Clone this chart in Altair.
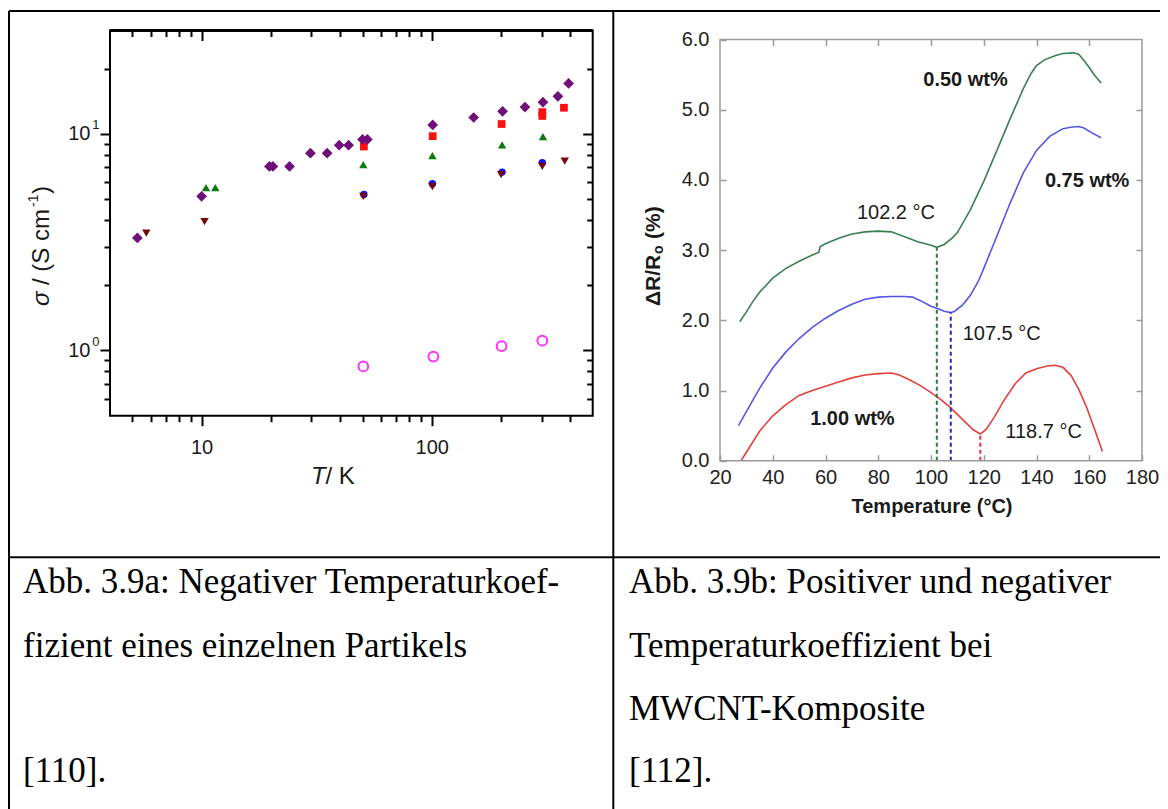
import altair as alt
import pandas as pd

# ---------------- data: panel a (log-log) ----------------
dia_T = [5.26, 10.0, 19.7, 20.4, 24.1, 29.7, 35.1, 39.6, 43.5, 50.0, 52.5, 100.9, 152, 203, 254, 304, 353, 393]
dia_S = [3.31, 5.15, 7.07, 7.07, 7.07, 8.14, 8.14, 8.87, 8.87, 9.42, 9.42, 11.0, 11.9, 12.7, 13.3, 14.0, 14.9, 17.1]
sq_T = [50.7, 100.9, 201, 302, 302, 375]
sq_S = [8.74, 9.76, 11.1, 12.1, 12.6, 13.2]
tri_T = [10.45, 11.47, 50.4, 100.6, 202, 304]
tri_S = [5.64, 5.64, 7.21, 7.94, 8.9, 9.72]
cir_T = [50.7, 100.6, 202, 302]
cir_S = [5.25, 5.88, 6.66, 7.35]
dtri_T = [5.75, 10.3, 50.4, 100.6, 200, 302, 378]
dtri_S = [3.48, 3.93, 5.14, 5.71, 6.48, 7.07, 7.48]
oc_T = [50.4, 101.6, 201, 302]
oc_S = [0.844, 0.937, 1.047, 1.11]

a_major_x = [10, 100]
a_minor_x = [5, 6, 7, 8, 9, 20, 30, 40, 50, 60, 70, 80, 90, 200, 300, 400]
a_major_y = [1, 10]
a_minor_y = [0.6, 0.7, 0.8, 0.9, 2, 3, 4, 5, 6, 7, 8, 9, 20]

# ---------------- data: panel b ----------------
g_T = [27.5, 30, 32.5, 35, 40, 45, 50, 55, 57.5, 58, 60, 65, 70, 75, 80, 85, 90, 95, 100, 102.2, 105, 108, 110,
       112, 115, 120, 125, 130, 135, 138, 140, 143, 147, 150, 154, 156, 158, 160, 162, 164.5]
g_R = [1.98, 2.12, 2.27, 2.40, 2.60, 2.74, 2.84, 2.93, 2.97, 3.05, 3.09, 3.17, 3.23, 3.26, 3.27, 3.26, 3.19, 3.12,
       3.07, 3.04, 3.08, 3.17, 3.25, 3.38, 3.58, 3.98, 4.42, 4.87, 5.30, 5.52, 5.63, 5.71, 5.77, 5.80, 5.81, 5.79,
       5.70, 5.60, 5.49, 5.38]
b_T = [27, 30, 35, 40, 45, 50, 55, 60, 65, 70, 75, 80, 85, 90, 93, 96, 100, 103, 105, 107.5, 109, 112, 115, 118,
       120, 125, 130, 135, 140, 145, 150, 153, 156, 158, 161, 164.5]
b_R = [0.50, 0.70, 1.03, 1.32, 1.55, 1.74, 1.90, 2.03, 2.14, 2.23, 2.30, 2.33, 2.34, 2.34, 2.33, 2.28, 2.20, 2.16,
       2.13, 2.11, 2.13, 2.22, 2.36, 2.56, 2.74, 3.20, 3.67, 4.10, 4.42, 4.62, 4.73, 4.75, 4.76, 4.74, 4.67, 4.60]
r_T = [28, 30, 35, 40, 45, 50, 55, 60, 65, 70, 75, 80, 85, 88, 92, 96, 100, 103, 107, 110, 113, 116, 118.7, 121,
       124, 128, 132, 136, 140, 144, 147, 150, 153, 156, 159, 162, 165]
r_R = [0.0, 0.12, 0.42, 0.64, 0.80, 0.93, 1.00, 1.06, 1.12, 1.18, 1.22, 1.24, 1.25, 1.22, 1.15, 1.07, 0.97, 0.89,
       0.77, 0.66, 0.55, 0.44, 0.38, 0.45, 0.62, 0.88, 1.10, 1.25, 1.31, 1.35, 1.36, 1.33, 1.22, 1.02, 0.76, 0.45,
       0.13]
min_T = [102.2, 107.5, 118.7]
min_R = [3.04, 2.11, 0.38]
wt_labels = ["0.50 wt%", "0.75 wt%", "1.00 wt%"]
wt_T = [113.1, 159.2, 70.2]
wt_R = [5.42, 3.99, 0.59]
min_labels = ["102.2 °C", "107.5 °C", "118.7 °C"]
min_lab_T = [86.7, 126.8, 142.7]
min_lab_R = [3.53, 1.81, 0.41]
b_ticks_x = [20, 40, 60, 80, 100, 120, 140, 160, 180]
b_ticks_y = [0, 1, 2, 3, 4, 5, 6]

caption_left = ["Abb. 3.9a: Negativer Temperaturkoef-", "fizient eines einzelnen Partikels", "", "[110]."]
caption_right = ["Abb. 3.9b: Positiver und negativer", "Temperaturkoeffizient bei", "MWCNT-Komposite", "[112]."]

# ---------------- layout ----------------
W, H = 1152, 801
P = 8
SANS = "Liberation Sans"
SERIF = "Liberation Serif"


def px(v):
    return v - P


LX = [px(110), px(592.7)]
LY = [px(415.7), px(30.5)]
RX = [px(720), px(1142)]
RY = [px(460.7), px(39.5)]


def lxs():
    return alt.Scale(type="log", domain=[4, 500], range=LX, nice=False)


def lys():
    return alt.Scale(type="log", domain=[0.5, 30], range=LY, nice=False)


def rxs():
    return alt.Scale(type="linear", domain=[20, 180], range=RX, nice=False, zero=False)


def rys():
    return alt.Scale(type="linear", domain=[0, 6], range=RY, nice=False, zero=False)


def ax(orient, values, tick, offset, color="black", width=2, **kw):
    base = dict(orient=orient, values=values, tickSize=tick, tickWidth=width, tickColor=color,
                domain=False, grid=False, offset=offset, title=None, labelOverlap=False, labelFlush=False)
    if "labels" not in kw:
        base["labels"] = False
    base.update(kw)
    return alt.Axis(**base)


# panel a axes
lb_major = ax("bottom", a_major_x, 10, LY[0] - H, labels=True, format="d", labelFont=SANS,
              labelFontSize=20, labelColor="#1a1a1a", labelPadding=12)
lb_minor = ax("bottom", a_minor_x, 6, LY[0] - H)
lt_major = ax("top", a_major_x, 10, -(LY[1] + 10))
lt_minor = ax("top", a_minor_x, 6, -(LY[1] + 6))
ll_major = ax("left", a_major_y, 10, -LX[0], labels=True, labelExpr="'10'", labelFont=SANS,
              labelFontSize=20, labelColor="#1a1a1a", labelPadding=10)
ll_minor = ax("left", a_minor_y, 6, -LX[0])
lr_major = ax("right", a_major_y, 10, (LX[1] - 10) - W)
lr_minor = ax("right", a_minor_y, 6, (LX[1] - 6) - W)
ll_sup = ax("left", a_major_y, 0, -LX[0], ticks=False, labels=True,
            labelExpr="datum.value < 5 ? '0' : '1'", labelFont=SANS, labelFontSize=13,
            labelColor="#1a1a1a", labelPadding=11, labelOffset=-9)

# panel b axes
GR = "#9a9a9a"
rb = ax("bottom", b_ticks_x, 6, (RY[0] - 6) - H, color=GR, width=1.5, labels=True, labelFont=SANS,
        labelFontSize=20, labelColor="#222222", labelPadding=7)
rl = ax("left", b_ticks_y, 6, -(RX[0] + 6), color=GR, width=1.5, labels=True, format=".1f",
        labelFont=SANS, labelFontSize=20, labelColor="#222222", labelPadding=11)
rt = ax("top", b_ticks_x[1:-1], 6, -(RY[1] + 6), color=GR, width=1.5)
rr = ax("right", b_ticks_y[1:-1], 6, (RX[1] - 6) - W, color=GR, width=1.5)

one = pd.DataFrame({"k": [0]})


def pts(T, S, shape, color, size, xa, ya, filled=True, sw=0):
    df = pd.DataFrame({"T": T, "S": S})
    if filled:
        m = alt.Chart(df).mark_point(shape=shape, size=size, filled=True, color=color, opacity=1)
    else:
        m = alt.Chart(df).mark_point(shape=shape, size=size, filled=False, color=color, opacity=1,
                                     strokeWidth=sw)
    return m.encode(x=alt.X("T:Q", scale=lxs(), axis=xa), y=alt.Y("S:Q", scale=lys(), axis=ya))


def label(text, x, y, size, angle=0, align="left", baseline="alphabetic", font=SANS, **kw):
    props = dict(text=text, font=font, fontSize=size, align=align, baseline=baseline, color="#1a1a1a")
    if angle:
        props["angle"] = angle
    props.update(kw)
    return alt.Chart(one).mark_text(**props).encode(x=alt.value(px(x)), y=alt.value(px(y)))


layers = []

# panel a frame
layers.append(alt.Chart(one).mark_rect(fillOpacity=0, stroke="black", strokeWidth=2).encode(
    x=alt.X(datum=4, type="quantitative", scale=lxs(), axis=None),
    x2=alt.X2(datum=500),
    y=alt.Y(datum=0.5, type="quantitative", scale=lys(), axis=None),
    y2=alt.Y2(datum=30)))
layers.append(alt.Chart(one).mark_rule(color="black", strokeWidth=3).encode(
    x=alt.X(datum=4, type="quantitative", scale=lxs(), axis=None),
    x2=alt.X2(datum=500),
    y=alt.Y(datum=30, type="quantitative", scale=lys(), axis=None)))

layers.append(pts(sq_T, sq_S, "square", "#ff1010", 60, lb_major, ll_major))
layers.append(pts(tri_T, tri_S, "triangle-up", "#0a7a0a", 70, lb_minor, ll_minor))
layers.append(pts(cir_T, cir_S, "circle", "#1010ff", 55, lt_major, lr_major))
layers.append(pts(dtri_T, dtri_S, "triangle-down", "#780808", 70, lt_minor, lr_minor))
layers.append(pts(oc_T, oc_S, "circle", "#ff30ff", 95, None, ll_sup, filled=False, sw=2))
layers.append(pts(dia_T, dia_S, "diamond", "#6e0f7a", 115, None, None))

# panel a titles
layers.append(label("T", 311, 484, 24, fontStyle="italic"))
layers.append(label("/ K", 325.5, 484, 24))
Y0 = 306
layers.append(label("σ", 42, Y0, 24, angle=270, baseline="middle", fontStyle="italic"))
layers.append(label("/ (S cm", 42, Y0 - 21, 24, angle=270, baseline="middle"))
layers.append(label("-1", 34, Y0 - 99, 14, angle=270, baseline="middle"))
layers.append(label(")", 42, Y0 - 112, 24, angle=270, baseline="middle"))


# panel b
def line(T, R, color, xa, ya):
    df = pd.DataFrame({"T": T, "R": R})
    return alt.Chart(df).mark_line(color=color, strokeWidth=1.6).encode(
        x=alt.X("T:Q", scale=rxs(), axis=xa), y=alt.Y("R:Q", scale=rys(), axis=ya))


layers.append(line(g_T, g_R, "#3a7f52", rb, rl))
layers.append(line(b_T, b_R, "#5656e6", rt, rr))
layers.append(line(r_T, r_R, "#e4403c", None, None))

dash_colors = ["#2f7a40", "#2424d0", "#e03434"]
for t, r, c in zip(min_T, min_R, dash_colors):
    d = pd.DataFrame({"T": [t], "R0": [0.0], "R1": [r]})
    layers.append(alt.Chart(d).mark_rule(color=c, strokeWidth=2, strokeDash=[4, 3]).encode(
        x=alt.X("T:Q", scale=rxs(), axis=None),
        y=alt.Y("R0:Q", scale=rys(), axis=None), y2="R1:Q"))

layers.append(alt.Chart(one).mark_rect(fillOpacity=0, stroke=GR, strokeWidth=1.5).encode(
    x=alt.X(datum=20, type="quantitative", scale=rxs(), axis=None),
    x2=alt.X2(datum=180),
    y=alt.Y(datum=0, type="quantitative", scale=rys(), axis=None),
    y2=alt.Y2(datum=6)))

wt_df = pd.DataFrame({"T": wt_T, "R": wt_R, "label": wt_labels})
layers.append(alt.Chart(wt_df).mark_text(font=SANS, fontSize=20, fontWeight="bold", color="#1a1a1a",
                                         align="center", baseline="middle").encode(
    x=alt.X("T:Q", scale=rxs(), axis=None), y=alt.Y("R:Q", scale=rys(), axis=None), text="label:N"))
mn_df = pd.DataFrame({"T": min_lab_T, "R": min_lab_R, "label": min_labels})
layers.append(alt.Chart(mn_df).mark_text(font=SANS, fontSize=20, color="#1a1a1a",
                                         align="center", baseline="middle").encode(
    x=alt.X("T:Q", scale=rxs(), axis=None), y=alt.Y("R:Q", scale=rys(), axis=None), text="label:N"))

# panel b titles
layers.append(label("Temperature (°C)", 932, 513, 20, align="center", fontWeight="bold"))
YB = 306
layers.append(label("ΔR/R", 654, YB, 21, angle=270, baseline="middle", fontWeight="bold"))
layers.append(label("o", 659, YB - 52, 14, angle=270, baseline="middle", fontWeight="bold"))
layers.append(label("(%)", 654, YB - 67, 21, angle=270, baseline="middle", fontWeight="bold"))


# table lines
def rule(x1, y1, x2, y2):
    return alt.Chart(one).mark_rule(color="black", strokeWidth=2).encode(
        x=alt.value(px(x1)), x2=alt.value(px(x2)), y=alt.value(px(y1)), y2=alt.value(px(y2)))


layers.append(rule(9, 11, 1168, 11))
layers.append(rule(9, 11, 9, 809))
layers.append(rule(613.3, 11, 613.3, 809))
layers.append(rule(9, 557.3, 1168, 557.3))

# captions
baselines = [593.3, 657, 720, 782]
for i, txt in enumerate(caption_left):
    if txt:
        layers.append(label(txt, 23, baselines[i], 35, font=SERIF, color="black"))
for i, txt in enumerate(caption_right):
    layers.append(label(txt, 629, baselines[i], 35, font=SERIF, color="black"))

chart = alt.layer(*layers).resolve_scale(x="independent", y="independent").resolve_axis(
    x="independent", y="independent").properties(
    width=W, height=H, padding=0, autosize=alt.AutoSizeParams(type="none"), background="white"
).configure_view(stroke=None)

chart.save("out.html", embed_options={"renderer": "svg", "actions": False})
